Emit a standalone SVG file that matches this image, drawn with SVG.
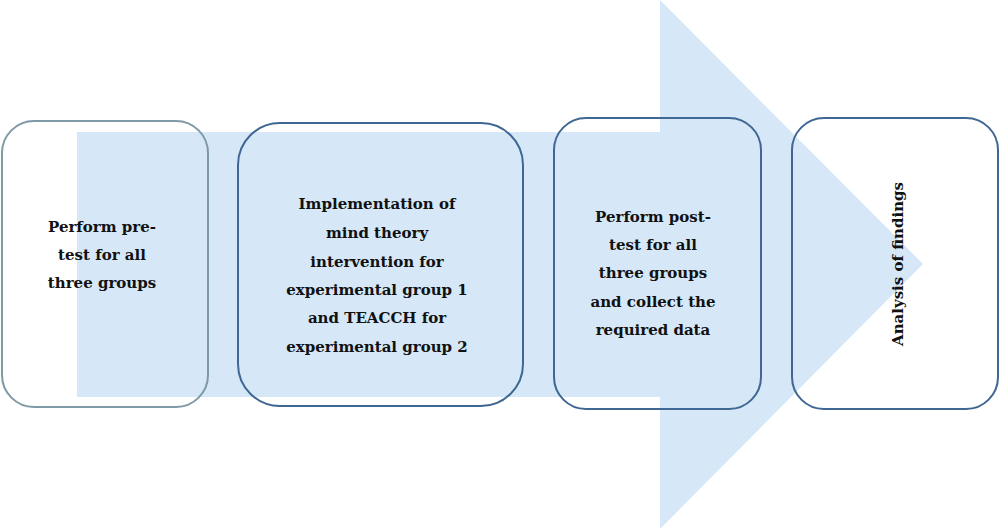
<svg xmlns="http://www.w3.org/2000/svg" width="1000" height="529" viewBox="0 0 1000 529">
<style>
.box{fill:none;stroke:#3f6793;stroke-width:2}
.box1{fill:none;stroke:#8099a6;stroke-width:2}
.t{font-family:"DejaVu Serif","Liberation Serif",serif;font-weight:bold;font-size:15px;fill:#111;text-anchor:middle}
</style>
<rect width="1000" height="529" fill="#ffffff"/>
<g id="arrow">
<polygon points="77,132 660,132 660,0 923,264 660,529 660,397 77,397" fill="#d6e8f8"/>
</g>
<g id="node1">
<rect class="box1" x="2" y="121" width="206" height="286" rx="32"/>
<text class="t" x="102" y="232">Perform pre-</text>
<text class="t" x="102" y="260">test for all</text>
<text class="t" x="102" y="288">three groups</text>
</g>
<g id="node2">
<rect class="box" x="238" y="123" width="285" height="283" rx="42"/>
<text class="t" x="377" y="209">Implementation of</text>
<text class="t" x="377" y="238">mind theory</text>
<text class="t" x="377" y="267">intervention for</text>
<text class="t" x="377" y="295">experimental group 1</text>
<text class="t" x="377" y="323">and TEACCH for</text>
<text class="t" x="377" y="352">experimental group 2</text>
</g>
<g id="node3">
<rect class="box" x="554" y="118" width="207" height="291" rx="32"/>
<text class="t" x="653" y="222">Perform post-</text>
<text class="t" x="653" y="250">test for all</text>
<text class="t" x="653" y="278">three groups</text>
<text class="t" x="653" y="307">and collect the</text>
<text class="t" x="653" y="335">required data</text>
</g>
<g id="node4">
<rect class="box" x="792" y="118" width="206" height="291" rx="32"/>
<text class="t" transform="translate(903,264) rotate(-90)" x="0" y="0">Analysis of findings</text>
</g>
<g id="connectors"></g>
</svg>
